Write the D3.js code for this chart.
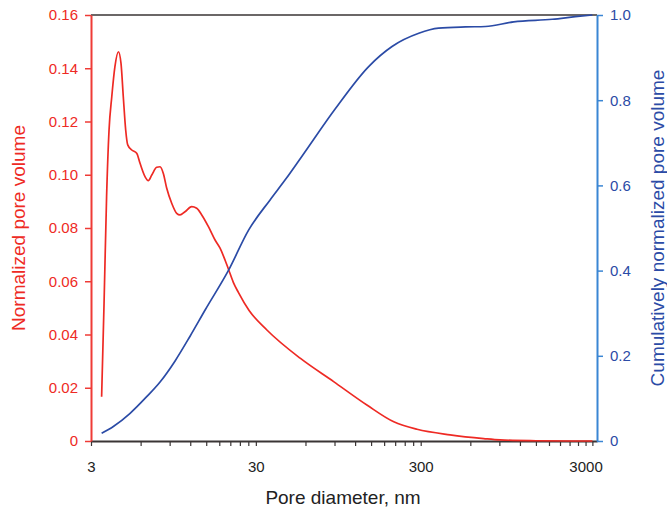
<!DOCTYPE html>
<html>
<head>
    <meta charset="utf-8">
    <title>Pore size distribution</title>
    <script src="https://d3js.org/d3.v7.min.js"></script>
    <style>
        body { margin: 0; background: #fff; }
        text { font-family: "Liberation Sans", Arial, sans-serif; }
    </style>
</head>
<body>
    <div id="chart"></div>

    <script>
        // pore diameter (nm) and normalized pore volume, red curve
        var redDiam = [3.48, 3.60, 3.73, 3.86, 4.01, 4.19, 4.40, 4.56, 4.71, 4.87, 5.01, 5.30, 5.68, 5.95, 6.38, 6.68,
            7.01, 7.51, 7.87, 8.24, 8.64, 9.26, 9.93, 10.4, 11.15, 12.24, 13.13, 14.09, 15.47, 16.97, 18.2, 19.5,
            20.5, 21.9, 23.5, 27.3, 35.0, 55.7, 88.9, 141.5, 206, 285, 452, 723, 910, 1500, 2500, 3300];
        var redVol = [0.0166, 0.0517, 0.0918, 0.1168, 0.1293, 0.1406, 0.1462, 0.1419, 0.1293, 0.1168, 0.1112, 0.1093,
            0.1081, 0.1043, 0.0993, 0.0978, 0.0999, 0.1028, 0.1030, 0.1005, 0.0949, 0.0893, 0.0855, 0.0849, 0.0861,
            0.0880, 0.0874, 0.0849, 0.0805, 0.0755, 0.0724, 0.0680, 0.0644, 0.0596, 0.0558, 0.0490, 0.0417, 0.0311,
            0.0223, 0.0135, 0.0072, 0.0044, 0.0023, 0.0009, 0.0004, 0.0001, 0.0, 0.0];

        // cumulative normalized pore volume, blue curve
        var blueDiam = [3.48, 4.10, 5.18, 6.53, 7.87, 9.71, 11.97, 14.8, 20.5, 27.1, 36.6, 45.2, 57.0, 91, 145,
            201, 292, 385, 560, 741, 1100, 1884, 2600, 3300];
        var blueVol = [0.018, 0.034, 0.065, 0.104, 0.1385, 0.188, 0.246, 0.308, 0.401, 0.495, 0.566, 0.613, 0.668,
            0.780, 0.879, 0.926, 0.957, 0.969, 0.972, 0.973, 0.984, 0.990, 0.996, 1.0];

        // tick labels
        var xTickLabels = [3, 30, 300, 3000];
        var xMinorTicks = [3];
        [3, 30, 300].forEach(function(base) {
            for (var k = 2; k <= 10; k++) xMinorTicks.push(base * k);
        });
        xMinorTicks.push(3300);
        var leftTicks = [0, 0.02, 0.04, 0.06, 0.08, 0.10, 0.12, 0.14, 0.16];
        var rightTicks = [0, 0.2, 0.4, 0.6, 0.8, 1.0];

        var width = 667, height = 512;
        var plotLeft = 91, plotRight = 597, plotTop = 15, plotBottom = 441;

        var red = "#ee2a24", redAxis = "#ef3b36";
        var blue = "#2b4ba6", blueAxis = "#3a86d4";

        var svg = d3.select("#chart")
            .append("svg")
            .attr("width", width)
            .attr("height", height);

        var x = d3.scaleLog().domain([3, 3520]).range([plotLeft, plotRight]);
        var yL = d3.scaleLinear().domain([0, 0.16]).range([plotBottom, plotTop]);
        var yR = d3.scaleLinear().domain([0, 1]).range([plotBottom, plotTop]);

        // top border
        svg.append("line")
            .attr("x1", plotLeft).attr("x2", plotRight)
            .attr("y1", plotTop).attr("y2", plotTop)
            .attr("stroke", "#3a3535").attr("stroke-width", 1.6);

        // bottom axis
        var xAxis = svg.append("g")
            .attr("transform", "translate(0," + plotBottom + ")")
            .call(d3.axisBottom(x).tickValues(xMinorTicks).tickSize(5).tickSizeOuter(0)
                .tickFormat(function(d) { return xTickLabels.indexOf(d) >= 0 ? d : ""; }));
        xAxis.select(".domain").attr("stroke", "#3a3535").attr("stroke-width", 2);
        xAxis.selectAll(".tick line").attr("stroke", "#3a3535").attr("stroke-width", 1.2);
        xAxis.selectAll(".tick text")
            .attr("fill", "#222").attr("font-size", 15).attr("dy", "1.5em");

        // left axis
        var yAxisL = svg.append("g")
            .attr("transform", "translate(" + plotLeft + ",0)")
            .call(d3.axisLeft(yL).tickValues(leftTicks).tickSize(6).tickSizeOuter(0)
                .tickFormat(function(d) { return d === 0 ? "0" : d3.format(".2f")(d); }));
        yAxisL.select(".domain").attr("stroke", redAxis).attr("stroke-width", 2);
        yAxisL.selectAll(".tick line").attr("stroke", redAxis).attr("stroke-width", 1.5);
        yAxisL.selectAll(".tick text").attr("fill", red).attr("font-size", 15).attr("x", -13);

        // right axis
        var yAxisR = svg.append("g")
            .attr("transform", "translate(" + plotRight + ",0)")
            .call(d3.axisRight(yR).tickValues(rightTicks).tickSize(6).tickSizeOuter(0)
                .tickFormat(function(d) { return d === 0 ? "0" : d3.format(".1f")(d); }));
        yAxisR.select(".domain").attr("stroke", blueAxis).attr("stroke-width", 2);
        yAxisR.selectAll(".tick line").attr("stroke", blueAxis).attr("stroke-width", 1.5);
        yAxisR.selectAll(".tick text").attr("fill", blue).attr("font-size", 15).attr("x", 13);

        // curves
        var redData = redDiam.map(function(d, i) { return [d, redVol[i]]; });
        var blueData = blueDiam.map(function(d, i) { return [d, blueVol[i]]; });

        svg.append("path")
            .datum(redData)
            .attr("fill", "none")
            .attr("stroke", red)
            .attr("stroke-width", 1.7)
            .attr("d", d3.line()
                .x(function(d) { return x(d[0]); })
                .y(function(d) { return yL(d[1]); })
                .curve(d3.curveMonotoneX));

        svg.append("path")
            .datum(blueData)
            .attr("fill", "none")
            .attr("stroke", blue)
            .attr("stroke-width", 1.7)
            .attr("d", d3.line()
                .x(function(d) { return x(d[0]); })
                .y(function(d) { return yR(d[1]); })
                .curve(d3.curveMonotoneX));

        // titles
        svg.append("text")
            .attr("x", 343).attr("y", 504)
            .attr("text-anchor", "middle")
            .attr("font-size", 19).attr("fill", "#222")
            .text("Pore diameter, nm");

        svg.append("text")
            .attr("transform", "translate(25," + ((plotTop + plotBottom) / 2) + ") rotate(-90)")
            .attr("text-anchor", "middle")
            .attr("font-size", 19).attr("fill", red)
            .text("Normalized pore volume");

        svg.append("text")
            .attr("transform", "translate(664," + ((plotTop + plotBottom) / 2) + ") rotate(-90)")
            .attr("text-anchor", "middle")
            .attr("font-size", 19).attr("fill", blue)
            .text("Cumulatively normalized pore volume");
    </script>
</body>
</html>
